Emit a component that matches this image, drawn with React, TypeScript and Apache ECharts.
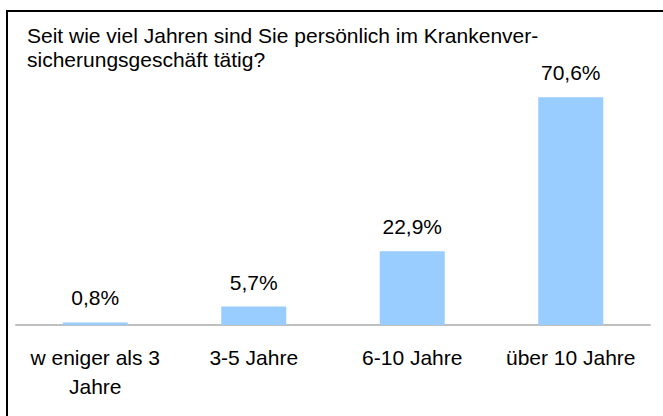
import React, { useEffect, useRef } from "react";
import * as echarts from "echarts";

const categories = ["w eniger als 3\nJahre", "3-5 Jahre", "6-10 Jahre", "über 10 Jahre"];
const values = [0.8, 5.7, 22.9, 70.6];
const valueLabels = ["0,8%", "5,7%", "22,9%", "70,6%"];
const titleLines = ["Seit wie viel Jahren sind Sie persönlich im Krankenver-", "sicherungsgeschäft tätig?"];

export default function App() {
  const ref = useRef<HTMLDivElement>(null);
  useEffect(() => {
    const chart = echarts.init(ref.current!, undefined, { renderer: "svg" });
    chart.setOption({
      animation: false,
      textStyle: { fontFamily: "Liberation Sans, Arial, sans-serif" },
      graphic: [
        {
          type: "rect",
          shape: { x: 7, y: 11, width: 700, height: 500 },
          style: { fill: "none", stroke: "#000", lineWidth: 2 },
          z: 0,
        },
        {
          type: "text",
          x: 27,
          y: 23,
          style: {
            text: titleLines.join("\n"),
            fontSize: 21,
            fontFamily: "Liberation Sans, Arial, sans-serif",
            lineHeight: 24,
            fill: "#000",
          },
        },
      ],
      grid: { left: 16, right: 13, top: 67, bottom: 91 },
      xAxis: {
        type: "category",
        data: categories,
        axisLine: { lineStyle: { color: "#BFBFBF", width: 2 } },
        axisTick: { show: false },
        axisLabel: {
          color: "#000",
          fontSize: 21,
          lineHeight: 29,
          margin: 18,
          interval: 0,
        },
      },
      yAxis: {
        type: "value",
        min: 0,
        max: 80,
        show: false,
        splitLine: { show: false },
      },
      series: [
        {
          type: "bar",
          data: values,
          barWidth: 65,
          itemStyle: { color: "#99CCFF" },
          label: {
            show: true,
            position: "top",
            distance: 14,
            color: "#000",
            fontSize: 21,
            formatter: (p: any) => valueLabels[p.dataIndex],
          },
        },
      ],
    });
    return () => chart.dispose();
  }, []);
  return (
    <div
      ref={ref}
      style={{ position: "fixed", left: 0, top: 0, width: 663, height: 416, background: "#fff" }}
    />
  );
}
